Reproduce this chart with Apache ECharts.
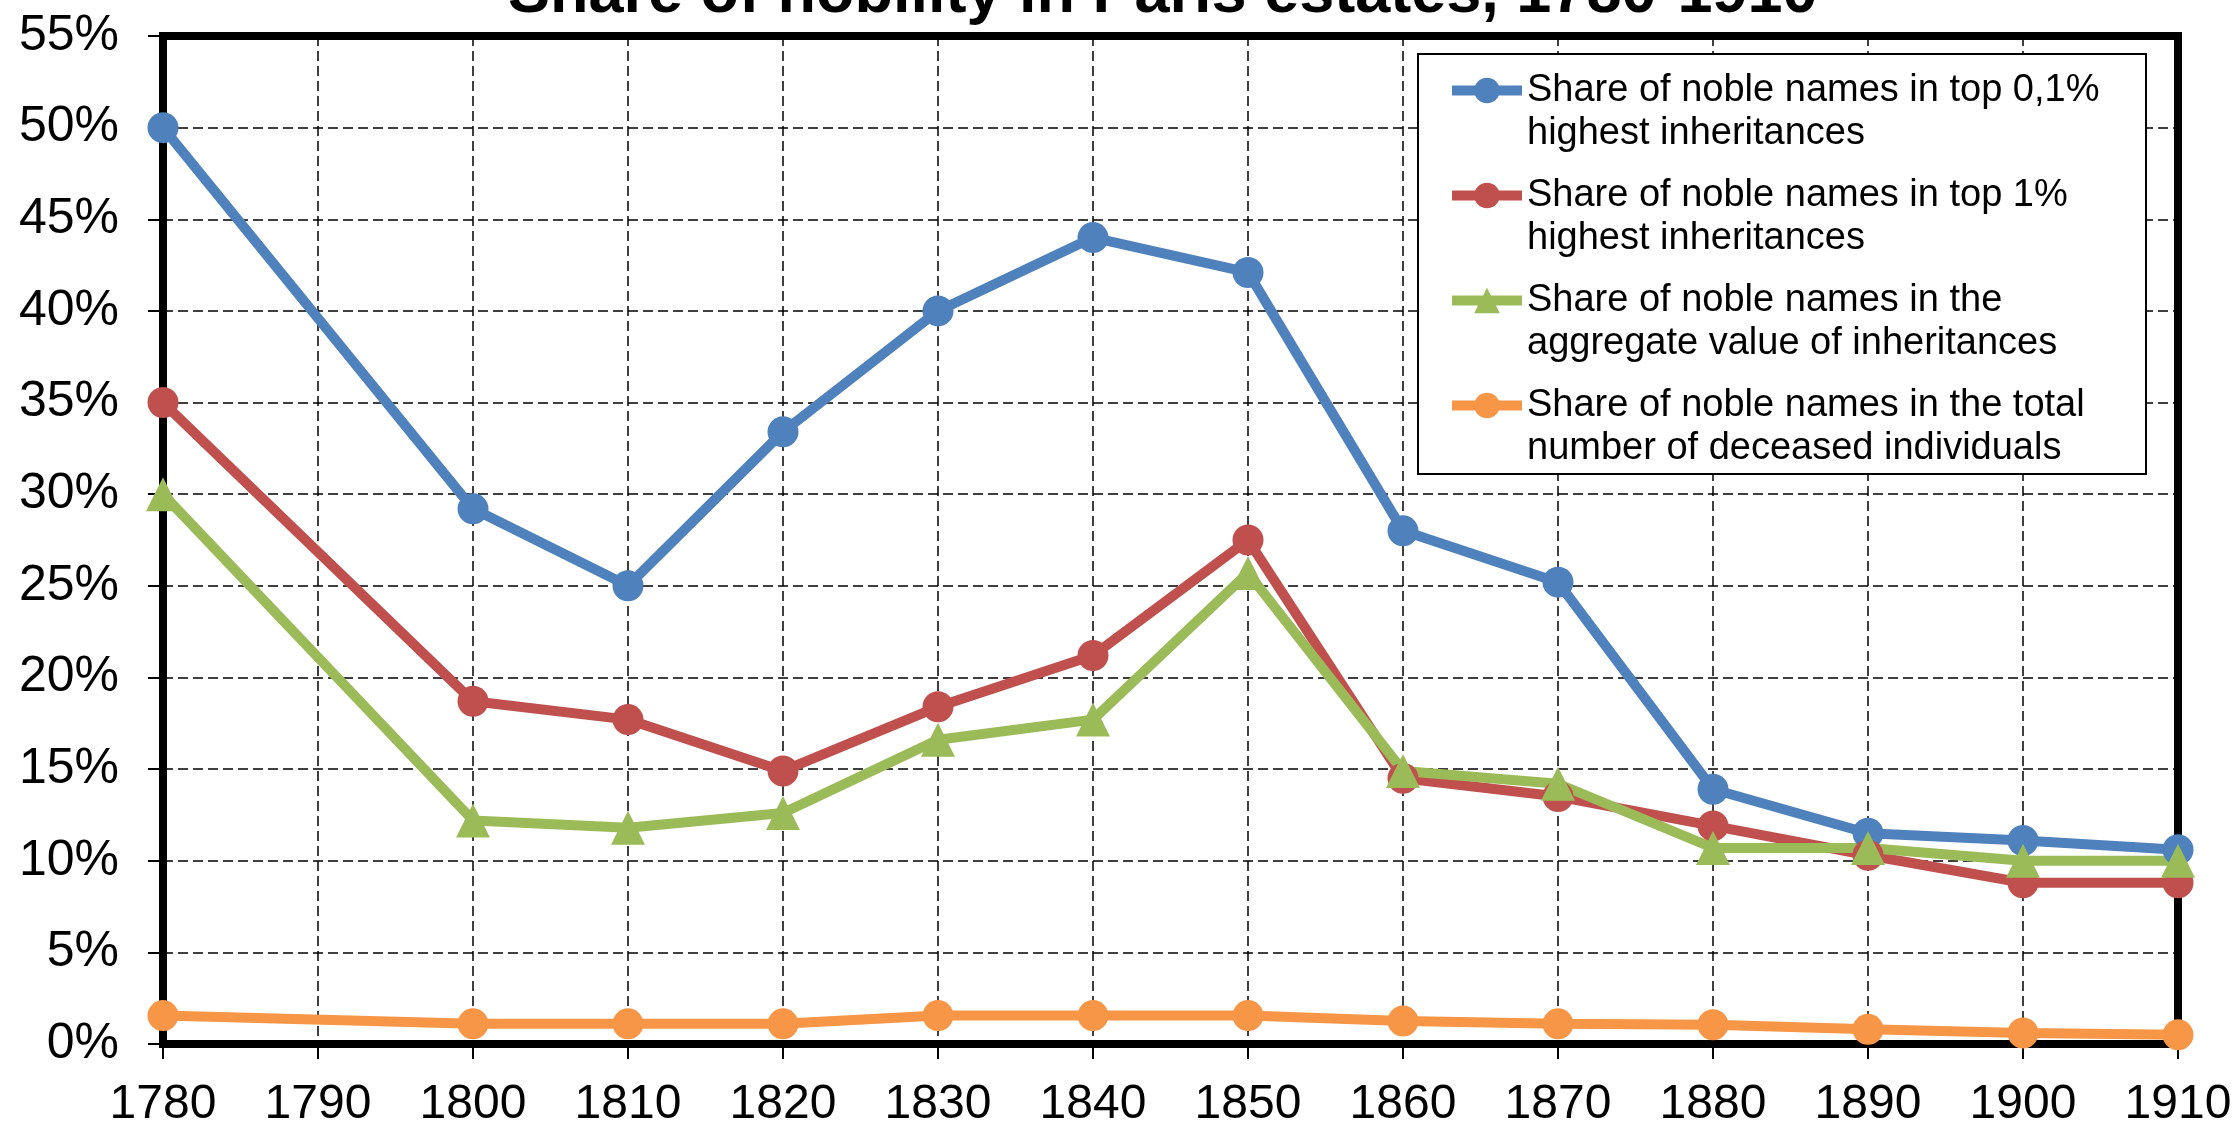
<!DOCTYPE html>
<html>
<head>
<meta charset="utf-8">
<title>Share of nobility in Paris estates, 1780-1910</title>
<script src="https://cdn.jsdelivr.net/npm/echarts@6/dist/echarts.min.js"></script>
<style>
  html, body { margin: 0; padding: 0; background: #fff; }
  #chart { width: 2239px; height: 1124px; }
</style>
</head>
<body>
<div id="chart"></div>
<script>
// years with a data point (no observation for 1790)
const years = [1780, 1800, 1810, 1820, 1830, 1840, 1850, 1860, 1870, 1880, 1890, 1900, 1910]
// values in %
const top01 = [50, 29.2, 25.0, 33.4, 40.0, 44.0, 42.1, 28.0, 25.2, 13.9, 11.5, 11.1, 10.6]
const top1 = [35, 18.7, 17.7, 14.9, 18.4, 21.2, 27.5, 14.5, 13.5, 11.9, 10.3, 8.8, 8.8]
const aggregate = [30, 12.2, 11.8, 12.6, 16.6, 17.7, 25.7, 14.9, 14.2, 10.7, 10.7, 10.0, 10.0]
const deceased = [1.55, 1.1, 1.1, 1.1, 1.55, 1.55, 1.55, 1.25, 1.1, 1.05, 0.8, 0.6, 0.5]

const seriesNames = [
  'Share of noble names in top 0,1%\nhighest inheritances',
  'Share of noble names in top 1%\nhighest inheritances',
  'Share of noble names in the\naggregate value of inheritances',
  'Share of noble names in the total\nnumber of deceased individuals'
]
const seriesValues = [top01, top1, aggregate, deceased]
const seriesColors = ['#4f81bd', '#c0504d', '#9bbb59', '#f79646']
const seriesSymbols = ['circle', 'circle', 'triangle', 'circle']

const FONT = '"Liberation Sans", Arial, sans-serif'
const dashed = { color: '#000', width: 1.5, type: [10, 5] }

const chart = echarts.init(document.getElementById('chart'), null, { renderer: 'canvas' })

const option = {
  animation: false,
  backgroundColor: '#fff',
  textStyle: { fontFamily: FONT },
  title: {
    text: 'Share of nobility in Paris estates, 1780-1910',
    left: 508,
    top: -37,
    padding: 0,
    textStyle: {
      fontFamily: FONT,
      fontSize: 63,
      fontWeight: 'bold',
      color: '#000',
      lineHeight: 63
    }
  },
  // frame of the legend box
  graphic: [
    {
      type: 'rect',
      z: 3,
      shape: { x: 1418, y: 54, width: 728, height: 420 },
      style: { fill: '#fff', stroke: '#000', lineWidth: 2 }
    }
  ],
  legend: {
    orient: 'vertical',
    left: 1447,
    top: 26,
    padding: 0,
    itemGap: -24,
    itemWidth: 70,
    itemHeight: 32,
    data: seriesNames,
    lineStyle: { width: 10 },
    // leading empty line keeps the icon level with the first text line
    formatter: name => '\n' + name,
    textStyle: {
      fontFamily: FONT,
      fontSize: 38,
      lineHeight: 43,
      color: '#000'
    }
  },
  grid: {
    left: 163,
    right: 61,
    top: 36,
    bottom: 80,
    containLabel: false,
    outerBoundsMode: 'none',
    show: true,
    borderColor: '#000',
    borderWidth: 8
  },
  xAxis: {
    type: 'value',
    min: 1780,
    max: 1910,
    interval: 10,
    axisLine: { show: true, onZero: false, lineStyle: { color: '#000', width: 8 } },
    axisTick: { show: true, length: 15, lineStyle: { color: '#000', width: 2 } },
    axisLabel: {
      margin: 37,
      fontFamily: FONT,
      fontSize: 48,
      color: '#000',
      formatter: v => String(v)
    },
    splitLine: { show: true, lineStyle: dashed }
  },
  yAxis: {
    type: 'value',
    min: 0,
    max: 55,
    interval: 5,
    axisLine: { show: true, lineStyle: { color: '#000', width: 8 } },
    axisTick: { show: true, length: 15, lineStyle: { color: '#000', width: 2 } },
    axisLabel: {
      margin: 44,
      fontFamily: FONT,
      fontSize: 50,
      color: '#000',
      formatter: '{value}%'
    },
    splitLine: { show: true, lineStyle: dashed }
  },
  series: seriesNames.map((name, i) => ({
    name,
    type: 'line',
    data: years.map((y, j) => [y, seriesValues[i][j]]),
    symbol: seriesSymbols[i],
    symbolSize: seriesSymbols[i] === 'triangle' ? 34 : 31,
    showAllSymbol: true,
    color: seriesColors[i],
    itemStyle: { color: seriesColors[i] },
    lineStyle: { color: seriesColors[i], width: 10 },
    emphasis: { disabled: true }
  }))
}

chart.setOption(option)
</script>
</body>
</html>
